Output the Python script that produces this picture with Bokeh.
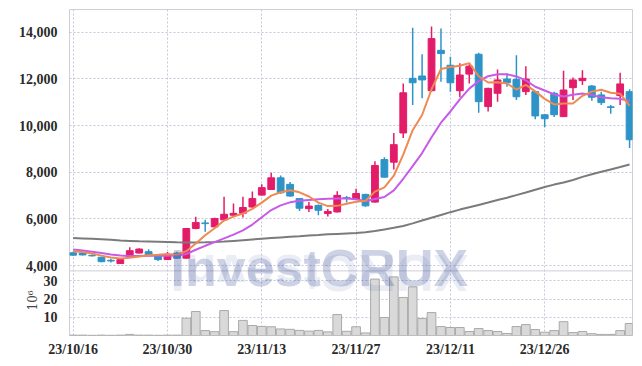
import numpy as np
from bokeh.plotting import figure
from bokeh.models import (FixedTicker, NumeralTickFormatter, Label, ColumnDataSource, Range1d,
                          Span, Title)
from bokeh.embed import file_html
from bokeh.resources import INLINE

# ---- data ----
dates = ["23/10/16", "23/10/17", "23/10/18", "23/10/19", "23/10/20",
         "23/10/23", "23/10/24", "23/10/25", "23/10/26", "23/10/27",
         "23/10/30", "23/10/31", "23/11/01", "23/11/02", "23/11/03",
         "23/11/06", "23/11/07", "23/11/08", "23/11/09", "23/11/10",
         "23/11/13", "23/11/14", "23/11/15", "23/11/16", "23/11/17",
         "23/11/20", "23/11/21", "23/11/22", "23/11/23", "23/11/24",
         "23/11/27", "23/11/28", "23/11/29", "23/11/30", "23/12/01",
         "23/12/04", "23/12/05", "23/12/06", "23/12/07", "23/12/08",
         "23/12/11", "23/12/12", "23/12/13", "23/12/14", "23/12/15",
         "23/12/18", "23/12/19", "23/12/20", "23/12/21", "23/12/22",
         "23/12/26", "23/12/27", "23/12/28", "24/01/02", "24/01/03",
         "24/01/04", "24/01/05", "24/01/08", "24/01/09", "24/01/10"]

opens = [4550, 4540, 4440, 4360, 4230, 4090, 4390, 4540, 4600, 4460,
         4260, 4540, 4320, 5590, 5830, 5660, 5960, 6160, 6240, 6510,
         7020, 7260, 7760, 7480, 6870, 6440, 6580, 6230, 6300, 6910,
         6840, 7050, 6720, 8540, 8430, 9680, 12020, 12120, 11490, 13220,
         12580, 11490, 12200, 13050, 10810, 11380, 11990, 11970, 11450, 11450,
         10460, 11380, 10380, 11620, 11920, 11690, 11310, 10800, 11280, 11450]
highs = [4600, 4600, 4480, 4380, 4300, 4280, 4790, 4740, 4700, 4480,
         4580, 4600, 5600, 6090, 5960, 6050, 6950, 6660, 6950, 7170,
         7480, 7980, 7860, 7580, 6900, 6720, 6620, 6430, 7190, 6980,
         7290, 7080, 8470, 8640, 9680, 11800, 14190, 13050, 14240, 14150,
         12940, 12660, 12620, 13110, 11620, 12400, 12230, 13010, 12540, 11480,
         10480, 11450, 12340, 12060, 12370, 11730, 11450, 10880, 12260, 11550]
lows = [4420, 4440, 4390, 4150, 4130, 4070, 4370, 4520, 4410, 4200,
        4240, 4300, 4300, 5560, 5450, 5640, 5940, 6100, 6060, 6480,
        7000, 7240, 7080, 6950, 6340, 6300, 6160, 6100, 6280, 6700,
        6820, 6520, 6700, 7760, 8120, 9460, 10880, 11170, 11460, 11870,
        11450, 11210, 11800, 10550, 10600, 11020, 11660, 11090, 11310, 10270,
        9930, 10360, 10360, 11090, 11730, 11060, 10880, 10500, 10880, 9040]
closes = [4450, 4460, 4420, 4170, 4200, 4260, 4640, 4710, 4430, 4260,
          4460, 4320, 5590, 5850, 5800, 6020, 6200, 6240, 6490, 6870,
          7340, 7760, 7120, 6980, 6460, 6550, 6370, 6320, 7010, 6880,
          7090, 6560, 8290, 7790, 9180, 11400, 11830, 11950, 13720, 13080,
          11830, 12160, 12540, 11020, 11590, 11950, 11830, 11230, 11990, 10410,
          10290, 10460, 11520, 11950, 12020, 11210, 10980, 10770, 11780, 9390]
volume_m = [0.2, 0.2, 0.1, 0.2, 0.1, 0.2, 0.6, 0.2, 0.2, 0.1,
            0.2, 0.2, 9.5, 13.2, 2.7, 2.1, 13.7, 2.1, 8.3, 5.5,
            5.0, 4.8, 3.6, 3.4, 2.8, 2.4, 2.8, 2.0, 11.5, 2.3,
            4.8, 1.4, 31.0, 9.9, 32.2, 20.9, 26.7, 9.3, 12.6, 4.9,
            4.4, 4.4, 2.2, 3.8, 2.7, 2.2, 1.1, 4.9, 6.0, 3.3,
            1.8, 2.7, 7.6, 1.6, 2.2, 1.0, 0.6, 0.6, 2.7, 6.6]
ma5 = [4620, 4580, 4520, 4430, 4350, 4310, 4340, 4390, 4450, 4470,
       4500, 4470, 4620, 4950, 5300, 5600, 5930, 6100, 6230, 6430,
       6700, 7000, 7140, 7230, 7140, 6960, 6700, 6550, 6560, 6650,
       6740, 6780, 7170, 7350, 7850, 8750, 9800, 10450, 11550, 12420,
       12500, 12560, 12670, 12110, 11840, 11850, 11800, 11540, 11740, 11460,
       11140, 10900, 10940, 10940, 11270, 11450, 11530, 11400, 11360, 10840]
ma10 = [4690, 4650, 4600, 4540, 4480, 4430, 4410, 4410, 4420, 4420,
        4420, 4430, 4500, 4680, 4850, 5010, 5170, 5330, 5510, 5760,
        6070, 6380, 6580, 6710, 6780, 6810, 6840, 6860, 6870, 6880,
        6840, 6760, 6850, 6940, 7220, 7720, 8260, 8820, 9500, 10120,
        10600, 11120, 11580, 11900, 12110, 12190, 12190, 12100, 11930, 11660,
        11500, 11330, 11240, 11320, 11370, 11300, 11210, 11170, 11140, 11050]
ma60 = [5180, 5165, 5150, 5130, 5110, 5080, 5060, 5040, 5030, 5020,
        5010, 5000, 4995, 4995, 5000, 5010, 5030, 5060, 5090, 5120,
        5150, 5180, 5210, 5240, 5260, 5290, 5310, 5340, 5360, 5380,
        5400, 5430, 5480, 5550, 5620, 5700, 5810, 5930, 6050, 6170,
        6290, 6400, 6500, 6600, 6700, 6810, 6910, 7020, 7130, 7250,
        7370, 7470, 7560, 7670, 7800, 7910, 8020, 8120, 8220, 8330]
tick_dates = ["23/10/16", "23/10/30", "23/11/13", "23/11/27", "23/12/11", "23/12/26"]
price_ticks = [4000, 6000, 8000, 10000, 12000, 14000]
volume_ticks = [10, 20, 30]

# ---- layout / styling constants ----
PRICE_LO, PRICE_HI = 1010, 14966     # price scale over the whole frame
VOL_HI = 179.1                       # volume scale (millions) over the whole frame
VOL_PANEL_TOP = 35.5                 # top of the volume pane, in volume units
UP = "#E31C69"
DOWN = "#2E94C7"
GRID = "#C4C7DA"
OUTLINE = "#CFCFD8"
TICK_FONT = "Liberation Sans Narrow"
WM_COLOR = "#4B5FA2"

x = list(range(len(dates)))
o = np.array(opens); c = np.array(closes)
colors = [UP if cc >= oo else DOWN for oo, cc in zip(opens, closes)]
src = ColumnDataSource(dict(x=x, open=opens, high=highs, low=lows, close=closes,
                            top=np.maximum(o, c), bottom=np.minimum(o, c),
                            color=colors, vol=volume_m,
                            ma5=ma5, ma10=ma10, ma60=ma60))
tick_idx = [dates.index(d) for d in tick_dates]


def vol_to_price(v):
    return PRICE_LO + v * (PRICE_HI - PRICE_LO) / VOL_HI


vol_tick_pos = [vol_to_price(t) for t in volume_ticks]

p = figure(width=634, height=359, x_range=Range1d(-0.39, 59.31),
           y_range=Range1d(PRICE_LO, PRICE_HI),
           output_backend="svg", toolbar_location=None,
           min_border_left=69, min_border_right=2, min_border_top=9, min_border_bottom=22)
p.extra_y_ranges = {"vol": Range1d(0, VOL_HI)}
p.outline_line_color = OUTLINE
p.background_fill_color = "white"
p.border_fill_color = "white"

for g in (p.xgrid, p.ygrid):
    g.grid_line_color = GRID
    g.grid_line_dash = "2 2"
    g.grid_line_width = 1
p.xgrid.ticker = FixedTicker(ticks=tick_idx)
p.ygrid.ticker = FixedTicker(ticks=price_ticks + vol_tick_pos)

# separator between price pane and volume pane
p.add_layout(Span(location=vol_to_price(VOL_PANEL_TOP), dimension="width",
                  line_color=OUTLINE, line_width=1))

ya = p.yaxis[0]
ya.ticker = FixedTicker(ticks=price_ticks + vol_tick_pos)
ya.formatter = NumeralTickFormatter(format="0,0")
ya.major_label_overrides = {vp: str(t) for vp, t in zip(vol_tick_pos, volume_ticks)}
ya.axis_line_color = None
ya.major_tick_line_color = None
ya.minor_tick_line_color = None
ya.major_label_standoff = 6
ya.major_label_text_font = TICK_FONT
ya.major_label_text_font_style = "bold"
ya.major_label_text_font_size = "14px"
ya.major_label_text_color = "#2a2a2a"

xa = p.xaxis[0]
xa.ticker = FixedTicker(ticks=tick_idx)
xa.major_label_overrides = {i: d for i, d in zip(tick_idx, tick_dates)}
xa.axis_line_color = None
xa.major_tick_line_color = None
xa.minor_tick_line_color = None
xa.major_label_standoff = 0
xa.major_label_text_font = TICK_FONT
xa.major_label_text_font_style = "bold"
xa.major_label_text_font_size = "14px"
xa.major_label_text_color = "#2a2a2a"

# volume unit label, placed beside the volume pane
p.add_layout(Title(text="10⁶", align="left", vertical_align="bottom", offset=25, standoff=-48,
                   text_font="DejaVu Serif", text_font_style="normal", text_font_size="12px",
                   text_color="#444444"), "left")

# volume
p.vbar(x="x", width=0.92, top="vol", bottom=0, fill_color="#D9D9D9",
       line_color="#A9A9A9", line_width=1, source=src, y_range_name="vol")

# candles
p.segment(x0="x", y0="low", x1="x", y1="high", color="color", line_width=1.5, source=src)
p.vbar(x="x", width=0.72, top="top", bottom="bottom", fill_color="color",
       line_color="color", source=src)

# moving averages
p.line("x", "ma60", source=src, color="#7B7B7B", line_width=2)
p.line("x", "ma10", source=src, color="#C75BE8", line_width=2)
p.line("x", "ma5", source=src, color="#EE8A52", line_width=2)

# watermark and its reflection
p.add_layout(Label(x=26.1, y=3915, text="InvestCRUX", text_font="Liberation Sans",
                   text_font_style="bold", text_font_size="52px", text_color=WM_COLOR,
                   text_alpha=0.28, text_align="center", text_baseline="alphabetic"))
p.add_layout(Label(x=26.1, y=34.6, y_range_name="vol", text="XURCtsevnI", angle=np.pi,
                   text_font="Liberation Sans", text_font_style="bold", text_font_size="52px",
                   text_color=WM_COLOR, text_alpha=0.11, text_align="center",
                   text_baseline="alphabetic"))

open("out.html", "w").write(file_html(p, INLINE))
